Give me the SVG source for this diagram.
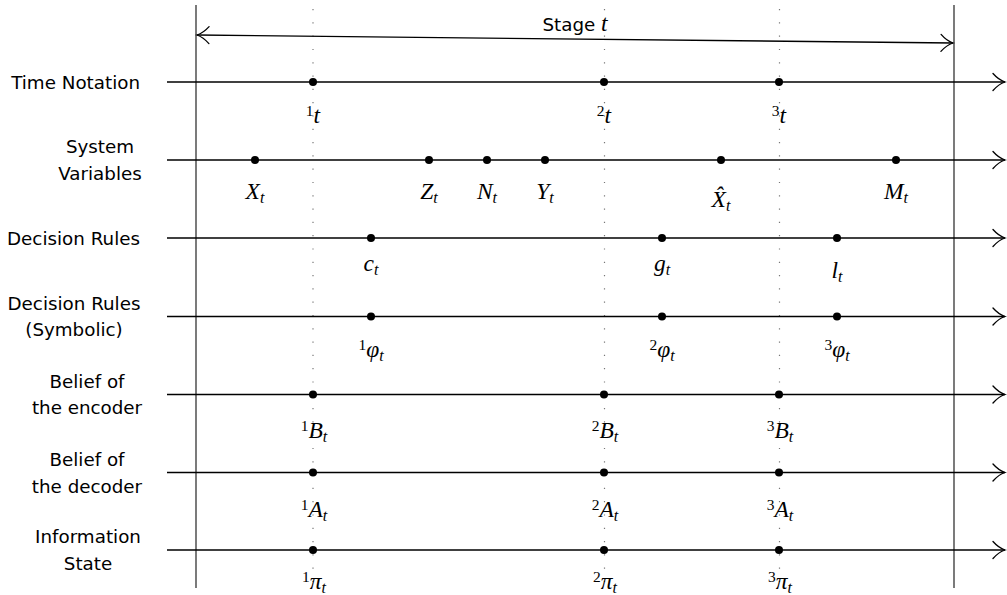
<svg xmlns="http://www.w3.org/2000/svg" width="1007" height="595" viewBox="0 0 1007 595">
<style>
.lbl{font-family:"DejaVu Sans",sans-serif;font-size:18.3px;fill:#000}
.m{font-family:"Liberation Serif",serif;font-style:italic;font-size:23.5px;fill:#000}
.s{font-style:normal;font-size:15.5px}
.b{font-size:16px}
.ax{stroke:#000;stroke-width:1.3;fill:none}
.fr{stroke:#333;stroke-width:1.3}
.dt{stroke:#777;stroke-width:1.2;stroke-dasharray:1.2 12.1}
.dot{fill:#000}
</style>
<defs>
<marker id="ah" markerUnits="userSpaceOnUse" orient="auto-start-reverse" overflow="visible" markerWidth="1" markerHeight="1" refX="0" refY="0">
<path d="M-12,-8.5 C-8,-4 -3,-1 0,0 C-3,1 -8,4 -12,8.5" fill="none" stroke="#000" stroke-width="1.3" stroke-linecap="round"/>
</marker>
</defs>
<g id="frame">
<line class="fr" x1="196" y1="5" x2="196" y2="588"/>
<line class="fr" x1="954" y1="5" x2="954" y2="588"/>
<line class="dt" x1="313" y1="9" x2="313" y2="592"/>
<line class="dt" x1="604.5" y1="9" x2="604.5" y2="592"/>
<line class="dt" x1="779.5" y1="9" x2="779.5" y2="592"/>
</g>
<g id="connectors">
<line class="ax" x1="197" y1="35" x2="953" y2="43" marker-start="url(#ah)" marker-end="url(#ah)"/>
<text class="lbl" x="575" y="31" text-anchor="middle">Stage <tspan class="m" font-size="23px">t</tspan></text>
</g>
<g id="time">
<text class="lbl" x="140" y="88.5" text-anchor="end">Time Notation</text>
<line class="ax" x1="167" y1="82" x2="1005" y2="82" marker-end="url(#ah)"/>
<circle class="dot" cx="313" cy="82" r="4"/><circle class="dot" cx="604" cy="82" r="4"/><circle class="dot" cx="779" cy="82" r="4"/>
<text class="m" x="313" y="123" text-anchor="middle"><tspan class="s" dy="-7">1</tspan><tspan dy="7">t</tspan></text>
<text class="m" x="604" y="123" text-anchor="middle"><tspan class="s" dy="-7">2</tspan><tspan dy="7">t</tspan></text>
<text class="m" x="779" y="123" text-anchor="middle"><tspan class="s" dy="-7">3</tspan><tspan dy="7">t</tspan></text>
</g>
<g id="system">
<text class="lbl" x="100" y="153" text-anchor="middle">System</text>
<text class="lbl" x="100" y="180" text-anchor="middle">Variables</text>
<line class="ax" x1="167" y1="160" x2="1005" y2="160" marker-end="url(#ah)"/>
<circle class="dot" cx="255" cy="160" r="4"/><circle class="dot" cx="429" cy="160" r="4"/><circle class="dot" cx="487" cy="160" r="4"/><circle class="dot" cx="545" cy="160" r="4"/><circle class="dot" cx="721" cy="160" r="4"/><circle class="dot" cx="896" cy="160" r="4"/>
<text class="m" x="255" y="199" text-anchor="middle">X<tspan class="b" dy="4">t</tspan></text>
<text class="m" x="429" y="199" text-anchor="middle">Z<tspan class="b" dy="4">t</tspan></text>
<text class="m" x="487" y="199" text-anchor="middle">N<tspan class="b" dy="4">t</tspan></text>
<text class="m" x="545" y="199" text-anchor="middle">Y<tspan class="b" dy="4">t</tspan></text>
<text class="m" x="721" y="207" text-anchor="middle">X&#x302;<tspan class="b" dy="4">t</tspan></text>
<text class="m" x="896" y="199" text-anchor="middle">M<tspan class="b" dy="4">t</tspan></text>
</g>
<g id="decision">
<text class="lbl" x="140" y="244.5" text-anchor="end">Decision Rules</text>
<line class="ax" x1="167" y1="238" x2="1005" y2="238" marker-end="url(#ah)"/>
<circle class="dot" cx="371" cy="238" r="4"/><circle class="dot" cx="662" cy="238" r="4"/><circle class="dot" cx="837" cy="238" r="4"/>
<text class="m" x="371" y="271" text-anchor="middle">c<tspan class="b" dy="4">t</tspan></text>
<text class="m" x="662" y="271" text-anchor="middle">g<tspan class="b" dy="4">t</tspan></text>
<text class="m" x="837" y="278" text-anchor="middle">l<tspan class="b" dy="4">t</tspan></text>
</g>
<g id="symbolic">
<text class="lbl" x="74" y="309.5" text-anchor="middle">Decision Rules</text>
<text class="lbl" x="74" y="335.5" text-anchor="middle">(Symbolic)</text>
<line class="ax" x1="167" y1="316.5" x2="1005" y2="316.5" marker-end="url(#ah)"/>
<circle class="dot" cx="371" cy="316.5" r="4"/><circle class="dot" cx="662" cy="316.5" r="4"/><circle class="dot" cx="837" cy="316.5" r="4"/>
<text class="m" x="371" y="357" text-anchor="middle"><tspan class="s" dy="-7">1</tspan><tspan dy="7">φ</tspan><tspan class="b" dy="4">t</tspan></text>
<text class="m" x="662" y="357" text-anchor="middle"><tspan class="s" dy="-7">2</tspan><tspan dy="7">φ</tspan><tspan class="b" dy="4">t</tspan></text>
<text class="m" x="837" y="357" text-anchor="middle"><tspan class="s" dy="-7">3</tspan><tspan dy="7">φ</tspan><tspan class="b" dy="4">t</tspan></text>
</g>
<g id="encoder">
<text class="lbl" x="87" y="387.5" text-anchor="middle">Belief of</text>
<text class="lbl" x="87" y="414" text-anchor="middle">the encoder</text>
<line class="ax" x1="167" y1="394.5" x2="1005" y2="394.5" marker-end="url(#ah)"/>
<circle class="dot" cx="313" cy="394.5" r="4"/><circle class="dot" cx="604" cy="394.5" r="4"/><circle class="dot" cx="779" cy="394.5" r="4"/>
<text class="m" x="314" y="438" text-anchor="middle"><tspan class="s" dy="-7">1</tspan><tspan dy="7">B</tspan><tspan class="b" dy="4">t</tspan></text>
<text class="m" x="605" y="438" text-anchor="middle"><tspan class="s" dy="-7">2</tspan><tspan dy="7">B</tspan><tspan class="b" dy="4">t</tspan></text>
<text class="m" x="780" y="438" text-anchor="middle"><tspan class="s" dy="-7">3</tspan><tspan dy="7">B</tspan><tspan class="b" dy="4">t</tspan></text>
</g>
<g id="decoder">
<text class="lbl" x="87" y="465.5" text-anchor="middle">Belief of</text>
<text class="lbl" x="87" y="492.5" text-anchor="middle">the decoder</text>
<line class="ax" x1="167" y1="472.5" x2="1005" y2="472.5" marker-end="url(#ah)"/>
<circle class="dot" cx="313" cy="472.5" r="4"/><circle class="dot" cx="604" cy="472.5" r="4"/><circle class="dot" cx="779" cy="472.5" r="4"/>
<text class="m" x="314" y="516.5" text-anchor="middle"><tspan class="s" dy="-7">1</tspan><tspan dy="7">A</tspan><tspan class="b" dy="4">t</tspan></text>
<text class="m" x="605" y="516.5" text-anchor="middle"><tspan class="s" dy="-7">2</tspan><tspan dy="7">A</tspan><tspan class="b" dy="4">t</tspan></text>
<text class="m" x="780" y="516.5" text-anchor="middle"><tspan class="s" dy="-7">3</tspan><tspan dy="7">A</tspan><tspan class="b" dy="4">t</tspan></text>
</g>
<g id="info">
<text class="lbl" x="88" y="543" text-anchor="middle">Information</text>
<text class="lbl" x="88" y="570" text-anchor="middle">State</text>
<line class="ax" x1="167" y1="550" x2="1005" y2="550" marker-end="url(#ah)"/>
<circle class="dot" cx="313" cy="550" r="4"/><circle class="dot" cx="604" cy="550" r="4"/><circle class="dot" cx="779" cy="550" r="4"/>
<text class="m" x="314" y="589" text-anchor="middle"><tspan class="s" dy="-7">1</tspan><tspan dy="7">π</tspan><tspan class="b" dy="4">t</tspan></text>
<text class="m" x="605" y="589" text-anchor="middle"><tspan class="s" dy="-7">2</tspan><tspan dy="7">π</tspan><tspan class="b" dy="4">t</tspan></text>
<text class="m" x="780" y="589" text-anchor="middle"><tspan class="s" dy="-7">3</tspan><tspan dy="7">π</tspan><tspan class="b" dy="4">t</tspan></text>
</g>
</svg>
